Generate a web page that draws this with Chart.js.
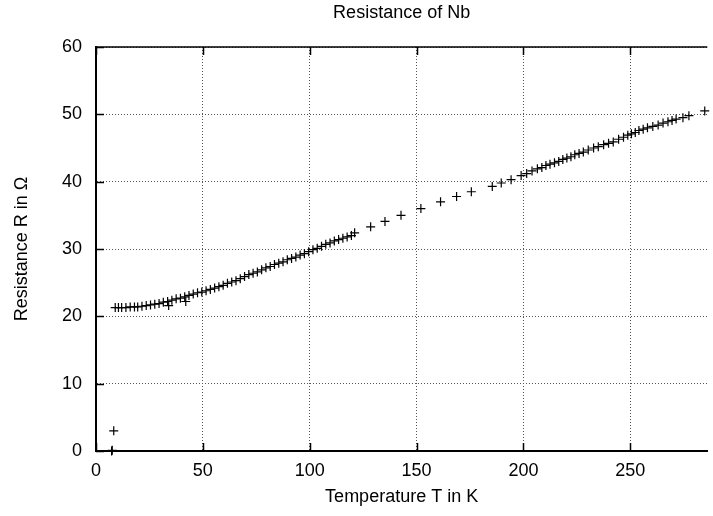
<!DOCTYPE html>
<html>
<head>
<meta charset="utf-8">
<script src="https://cdn.jsdelivr.net/npm/chart.js@4/dist/chart.umd.min.js"></script>
<style>
    body { margin: 0; background: #fff; }
    canvas { display: block; }
</style>
</head>
<body>
<canvas id="chart" width="713" height="516"></canvas>
<script>
// temperature in K
const temperature = [
    7.3, 7.6, 8.3,
    9.0, 10.5, 12.0, 14.0, 16.0, 18.0, 19.5, 21.5, 23.5, 25.5, 27.5, 29.5,
    31.5, 33.5, 34.0, 35.5, 37.5, 39.5, 41.5, 42.0, 43.5, 45.5, 47.5, 49.5,
    51.5, 53.5, 55.5, 57.5, 59.5, 61.5, 63.5, 65.5, 67.5, 69.5, 71.5, 73.5,
    75.5, 77.5, 79.5, 81.5, 83.5, 85.5, 87.5, 89.5, 91.5, 93.5, 95.5, 97.5,
    99.5, 101.5, 103.5, 105.5, 107.5, 109.5, 111.5, 113.5, 115.5, 117.5, 119.5, 121.0,
    128.5, 135.2, 142.7, 152.0, 161.2, 168.7, 175.6, 185.4, 189.6, 194.2, 198.9,
    201.5, 204.0, 206.5, 208.6, 210.5, 212.4, 214.5, 216.5, 218.4, 220.3, 222.2,
    224.0, 226.0, 228.0, 230.3, 232.8, 235.0, 237.5, 239.8, 242.0, 244.5, 246.8,
    248.8, 250.5, 252.3, 254.0, 256.0, 258.0, 260.5, 263.0, 265.3, 267.6, 269.5,
    271.4, 274.6, 277.4, 284.8
];
// resistance in Ohm
const resistance = [
    0.0, 0.1, 3.0,
    21.3, 21.3, 21.3, 21.3, 21.4, 21.4, 21.4, 21.5, 21.6, 21.7, 21.8, 21.9,
    22.1, 22.2, 21.6, 22.4, 22.6, 22.7, 22.9, 22.2, 23.1, 23.3, 23.5, 23.6,
    23.8, 24.0, 24.2, 24.4, 24.6, 24.9, 25.1, 25.3, 25.6, 25.9, 26.2, 26.4,
    26.6, 26.9, 27.2, 27.4, 27.7, 27.9, 28.1, 28.4, 28.6, 28.8, 29.1, 29.3,
    29.6, 29.9, 30.1, 30.4, 30.7, 30.9, 31.2, 31.4, 31.6, 31.8, 32.0, 32.4,
    33.3, 34.1, 35.0, 36.0, 37.0, 37.8, 38.5, 39.3, 39.8, 40.3, 40.9,
    41.2, 41.6, 41.9, 42.1, 42.4, 42.6, 42.8, 43.0, 43.3, 43.5, 43.7,
    44.0, 44.2, 44.4, 44.7, 45.0, 45.2, 45.5, 45.7, 45.9, 46.3, 46.6,
    46.9, 47.1, 47.3, 47.6, 47.8, 48.0, 48.2, 48.4, 48.7, 48.9, 49.1,
    49.3, 49.5, 49.8, 50.5
];
const xTicks = [0, 50, 100, 150, 200, 250];
const yTicks = [0, 10, 20, 30, 40, 50, 60];
const chartTitle = 'Resistance of Nb';

let points = [];
for (let i = 0; i < temperature.length; i++) {
    points.push({x: temperature[i], y: resistance[i]});
}

const fontName = '"Liberation Sans", Arial, sans-serif';
const fontSize = 18;

// gnuplot style: ticks pointing inwards, solid top border, title over the plot area
const frame = {
    id: 'frame',
    afterDraw(chart) {
        const ctx = chart.ctx;
        const area = chart.chartArea;
        const xs = chart.scales.x;
        const ys = chart.scales.y;
        const len = 8;
        ctx.save();
        ctx.strokeStyle = '#000';
        ctx.lineWidth = 1.5;
        ctx.beginPath();
        ctx.moveTo(area.left, area.top);
        ctx.lineTo(area.right, area.top);
        for (let v of xTicks) {
            let px = Math.round(xs.getPixelForValue(v)) + 0.5;
            ctx.moveTo(px, area.bottom);
            ctx.lineTo(px, area.bottom - len);
            ctx.moveTo(px, area.top);
            ctx.lineTo(px, area.top + len);
        }
        for (let v of yTicks) {
            let py = Math.round(ys.getPixelForValue(v)) + 0.5;
            ctx.moveTo(area.left, py);
            ctx.lineTo(area.left + len, py);
        }
        ctx.stroke();

        ctx.fillStyle = '#000';
        ctx.font = fontSize + 'px ' + fontName;
        ctx.textAlign = 'center';
        ctx.textBaseline = 'middle';
        ctx.fillText(chartTitle, (area.left + area.right) / 2, 13);
        ctx.restore();
    }
};

new Chart(document.getElementById('chart'), {
    type: 'scatter',
    data: {
        datasets: [{
            data: points,
            pointStyle: 'cross',
            pointRadius: 4.5,
            borderWidth: 1.2,
            borderColor: '#000',
            backgroundColor: '#000',
            clip: false
        }]
    },
    options: {
        responsive: false,
        animation: false,
        events: [],
        layout: { padding: { left: 0, right: 0, top: 47, bottom: 0 } },
        plugins: {
            legend: { display: false },
            tooltip: { enabled: false },
            title: { display: false }
        },
        scales: {
            x: {
                type: 'linear',
                min: 0,
                max: 286,
                afterBuildTicks(scale) {
                    scale.ticks = xTicks.map(v => ({value: v}));
                },
                afterFit(scale) { scale.height = 65; },
                grid: { color: '#555', lineWidth: 1, drawTicks: false },
                border: { color: '#000', width: 2, dash: [1, 2] },
                ticks: {
                    color: '#000',
                    padding: 9,
                    maxRotation: 0,
                    font: { family: fontName, size: fontSize }
                },
                title: {
                    display: true,
                    text: 'Temperature T in K',
                    color: '#000',
                    font: { family: fontName, size: fontSize },
                    padding: { top: 8, bottom: 8 }
                }
            },
            y: {
                type: 'linear',
                min: 0,
                max: 60,
                afterBuildTicks(scale) {
                    scale.ticks = yTicks.map(v => ({value: v}));
                },
                afterFit(scale) { scale.width = 96; },
                grid: { color: '#555', lineWidth: 1, drawTicks: false },
                border: { color: '#000', width: 2, dash: [1, 2] },
                ticks: {
                    color: '#000',
                    padding: 14,
                    font: { family: fontName, size: fontSize }
                },
                title: {
                    display: true,
                    text: 'Resistance R in Ω',
                    color: '#000',
                    font: { family: fontName, size: fontSize },
                    padding: { top: 11, bottom: 11 }
                }
            }
        }
    },
    plugins: [frame]
});
</script>
</body>
</html>
